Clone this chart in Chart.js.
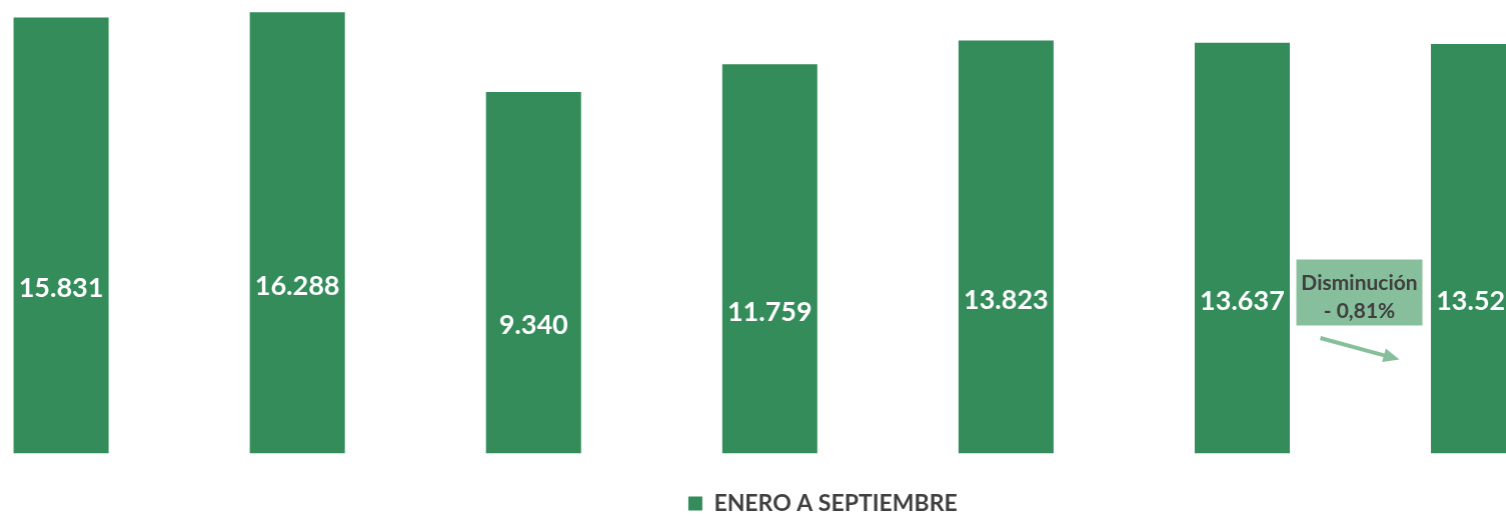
<!DOCTYPE html>
<html>
<head>
<meta charset="utf-8">
<script src="https://cdn.jsdelivr.net/npm/chart.js@4"></script>
<style>
    html, body { margin: 0; padding: 0; background: #fff; overflow: hidden; }
    #wrap { position: absolute; left: -57px; top: 0; width: 1758.6px; height: 525px; }
</style>
</head>
<body>
<div id="wrap"><canvas id="salesChart"></canvas></div>
<script>
// values
const periods = ['2016', '2017', '2018', '2019', '2020', '2021', '2022'];
const totals = [15831, 16288, 9340, 11759, 13823, 13637, 13527];
const seriesName = 'ENERO A SEPTIEMBRE';
const noteLines = ['Disminución', '- 0,81%'];

const axisMin = -22170;
const axisMax = 17360;

const green = '#338c5a';
const lightGreen = '#87bf9c';

function formatNumber(v) {
    return String(v).replace(/\B(?=(\d{3})+(?!\d))/g, '.');
}

// value labels inside the bars + the note between the last two bars
const barLabels = {
    id: 'barLabels',
    afterDatasetsDraw(chart) {
        const ctx = chart.ctx;
        const bars = chart.getDatasetMeta(0).data;

        ctx.save();
        ctx.fillStyle = '#ffffff';
        ctx.font = 'bold 27px Lato';
        ctx.textAlign = 'center';
        ctx.textBaseline = 'middle';
        bars.forEach((bar, i) => {
            let y = (bar.y + bar.base) / 2 + 53;
            ctx.fillText(formatNumber(totals[i]), bar.x, y);
        });

        // note box
        const prev = bars[bars.length - 2];
        const last = bars[bars.length - 1];
        const cx = (prev.x + last.x) / 2 - 1;
        const top = chart.chartArea.top + 259.5;
        ctx.fillStyle = lightGreen;
        ctx.fillRect(cx - 63, top, 126, 66);
        ctx.fillStyle = '#3f3f3f';
        ctx.font = 'bold 21px Lato';
        ctx.fillText(noteLines[0], cx, top + 24);
        ctx.fillText(noteLines[1], cx, top + 52);

        // arrow
        const x1 = cx - 39, y1 = top + 78.5;
        const x2 = cx + 40, y2 = top + 100;
        const ang = Math.atan2(y2 - y1, x2 - x1);
        ctx.strokeStyle = lightGreen;
        ctx.fillStyle = lightGreen;
        ctx.lineWidth = 4;
        ctx.beginPath();
        ctx.moveTo(x1, y1);
        ctx.lineTo(x2 - 12 * Math.cos(ang), y2 - 12 * Math.sin(ang));
        ctx.stroke();
        ctx.beginPath();
        ctx.moveTo(x2, y2);
        ctx.lineTo(x2 - 16 * Math.cos(ang) + 7 * Math.sin(ang), y2 - 16 * Math.sin(ang) - 7 * Math.cos(ang));
        ctx.lineTo(x2 - 16 * Math.cos(ang) - 7 * Math.sin(ang), y2 - 16 * Math.sin(ang) + 7 * Math.cos(ang));
        ctx.closePath();
        ctx.fill();
        ctx.restore();
    }
};

const data = {
    labels: periods,
    datasets: [{
        label: seriesName,
        data: totals,
        base: axisMin,
        backgroundColor: green,
        borderWidth: 0,
        barPercentage: 0.4025,
        categoryPercentage: 1
    }]
};

const config = {
    type: 'bar',
    data: data,
    options: {
        responsive: true,
        maintainAspectRatio: false,
        animation: false,
        layout: { padding: 0 },
        scales: {
            x: { display: false },
            y: {
                position: 'right',
                min: axisMin,
                max: axisMax,
                grid: { display: false },
                border: { display: false },
                ticks: { display: false },
                afterFit: (scale) => { scale.width = 106; }
            }
        },
        plugins: {
            tooltip: { enabled: false },
            legend: {
                position: 'bottom',
                labels: {
                    color: '#404040',
                    font: { family: 'Lato', size: 23, weight: 'bold', lineHeight: 1 },
                    boxWidth: 14,
                    boxHeight: 14,
                    padding: 38.5
                }
            }
        }
    },
    plugins: [barLabels]
};

const myChart = new Chart(document.getElementById('salesChart'), config);
</script>
</body>
</html>
